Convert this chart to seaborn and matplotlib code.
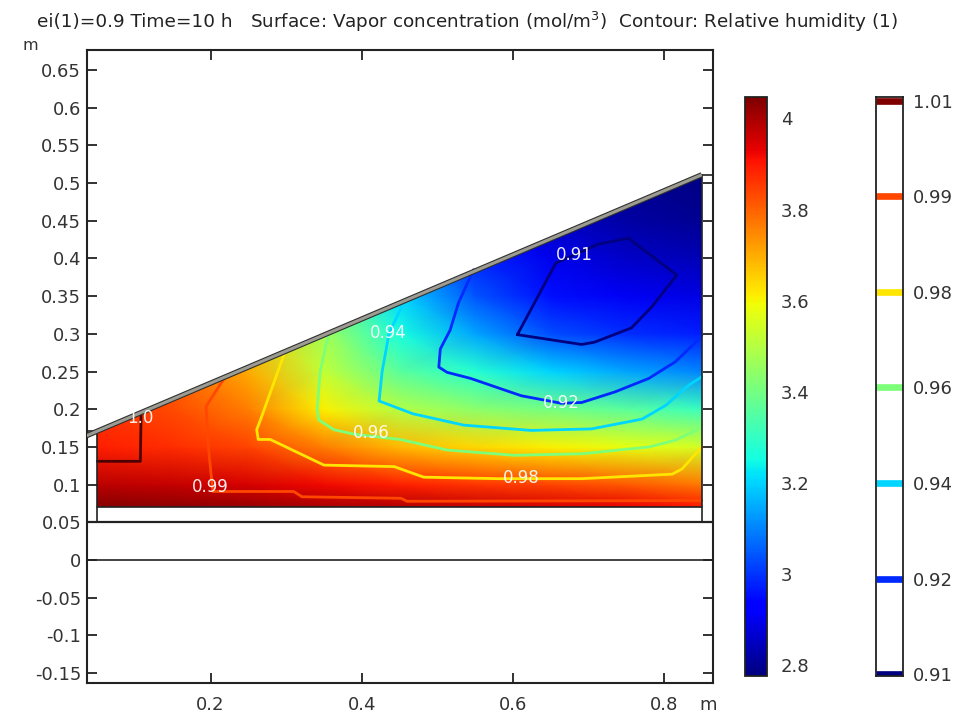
import numpy as np
import matplotlib
matplotlib.use("Agg")
import matplotlib.pyplot as plt
import matplotlib.patheffects as pe
from matplotlib.patches import Polygon
from matplotlib.colors import Normalize
from matplotlib.ticker import FuncFormatter
import seaborn as sns

# ---------------- data ----------------
# vapor concentration (mol/m^3) on a coarse grid (x columns, y rows)
conc_x = [0.05, 0.15, 0.25, 0.35, 0.45, 0.55, 0.65, 0.75, 0.85]
conc_y = [0.07, 0.10, 0.15, 0.20, 0.25, 0.30, 0.35, 0.40, 0.45, 0.52]
conc_row_007 = [4.04, 4.03, 4.02, 4.00, 3.99, 3.97, 3.95, 3.93, 3.90]
conc_row_010 = [3.98, 3.97, 3.95, 3.92, 3.89, 3.86, 3.84, 3.81, 3.77]
conc_row_015 = [3.89, 3.87, 3.84, 3.76, 3.68, 3.64, 3.61, 3.58, 3.55]
conc_row_020 = [3.86, 3.83, 3.76, 3.61, 3.50, 3.44, 3.40, 3.36, 3.31]
conc_row_025 = [3.84, 3.80, 3.70, 3.52, 3.36, 3.28, 3.20, 3.14, 3.10]
conc_row_030 = [3.82, 3.77, 3.65, 3.47, 3.26, 3.14, 3.03, 2.99, 2.97]
conc_row_035 = [3.80, 3.75, 3.62, 3.42, 3.20, 3.04, 2.95, 2.91, 2.89]
conc_row_040 = [3.78, 3.72, 3.58, 3.38, 3.15, 2.98, 2.90, 2.86, 2.84]
conc_row_045 = [3.76, 3.70, 3.55, 3.34, 3.10, 2.94, 2.86, 2.82, 2.80]
conc_row_052 = [3.74, 3.68, 3.52, 3.30, 3.06, 2.90, 2.83, 2.79, 2.77]
conc_min, conc_max = 2.776, 4.047
conc_ticks = [2.8, 3.0, 3.2, 3.4, 3.6, 3.8, 4.0]
conc_tick_labels = ["2.8", "3", "3.2", "3.4", "3.6", "3.8", "4"]

# relative humidity contour levels (legend) and in-plot labels
rh_legend_labels = ["0.91", "0.92", "0.94", "0.96", "0.98", "0.99", "1.01"]
rh_plot_labels = ["0.91", "0.92", "0.94", "0.96", "0.98", "0.99", "1.0"]
rh_label_x = [0.681, 0.664, 0.435, 0.413, 0.611, 0.200, 0.107]
rh_label_y = [0.404, 0.208, 0.301, 0.168, 0.109, 0.097, 0.189]

# iso-lines of relative humidity
rh091_x = [0.606, 0.691, 0.708, 0.757, 0.784, 0.817, 0.753, 0.713, 0.657, 0.606]
rh091_y = [0.299, 0.286, 0.289, 0.308, 0.336, 0.378, 0.427, 0.419, 0.394, 0.299]
rh092_x = [0.548, 0.528, 0.517, 0.504, 0.502, 0.513, 0.544, 0.611, 0.664, 0.691, 0.735, 0.780, 0.815, 0.842, 0.850]
rh092_y = [0.385, 0.341, 0.305, 0.280, 0.256, 0.249, 0.241, 0.218, 0.208, 0.209, 0.223, 0.241, 0.263, 0.289, 0.298]
rh094_x = [0.456, 0.436, 0.427, 0.423, 0.468, 0.535, 0.624, 0.704, 0.771, 0.802, 0.833, 0.850]
rh094_y = [0.343, 0.300, 0.250, 0.211, 0.194, 0.179, 0.172, 0.174, 0.187, 0.205, 0.232, 0.243]
rh096_x = [0.356, 0.345, 0.341, 0.343, 0.363, 0.390, 0.451, 0.513, 0.602, 0.691, 0.780, 0.815, 0.842, 0.850]
rh096_y = [0.300, 0.250, 0.200, 0.186, 0.173, 0.167, 0.160, 0.146, 0.139, 0.141, 0.150, 0.159, 0.172, 0.180]
rh098_x = [0.298, 0.266, 0.261, 0.263, 0.279, 0.350, 0.443, 0.482, 0.580, 0.691, 0.811, 0.824, 0.850]
rh098_y = [0.275, 0.186, 0.173, 0.160, 0.160, 0.126, 0.124, 0.110, 0.108, 0.108, 0.114, 0.121, 0.150]
rh099_x = [0.218, 0.194, 0.197, 0.200, 0.203, 0.310, 0.321, 0.452, 0.460, 0.850]
rh099_y = [0.241, 0.204, 0.150, 0.120, 0.091, 0.091, 0.084, 0.082, 0.078, 0.079]
rh101_x = [0.108, 0.107, 0.050]
rh101_y = [0.195, 0.131, 0.131]

# geometry of the model
domain_x = [0.05, 0.85, 0.85, 0.05]
domain_y = [0.07, 0.07, 0.511, 0.171]
slope_x = [0.036, 0.05, 0.85]
slope_y = [0.165, 0.171, 0.511]

x_ticks = [0.2, 0.4, 0.6, 0.8]
y_ticks = [-0.15, -0.1, -0.05, 0, 0.05, 0.1, 0.15, 0.2, 0.25, 0.3, 0.35,
           0.4, 0.45, 0.5, 0.55, 0.6, 0.65]
x_lim = (0.036, 0.8645)
y_lim = (-0.163, 0.6765)

# ---------------- drawing ----------------
sns.set_theme(style="ticks")
plt.rcParams["font.family"] = ["DejaVu Sans"]
plt.rcParams["axes.unicode_minus"] = False

W, H = 961, 715
fig = plt.figure(figsize=(W / 100, H / 100), dpi=100)
fig.patch.set_facecolor("white")

def fax(l, r, t, b):
    return [l / W, 1 - b / H, (r - l) / W, (b - t) / H]

ax = fig.add_axes(fax(86.7, 712.7, 50, 683))
ax.set_facecolor("white")

cmap = plt.get_cmap("jet")
norm = Normalize(conc_min, conc_max)

C = np.array([conc_row_007, conc_row_010, conc_row_015, conc_row_020, conc_row_025,
              conc_row_030, conc_row_035, conc_row_040, conc_row_045, conc_row_052])
X, Y = np.meshgrid(conc_x, conc_y)
mesh = ax.pcolormesh(X, Y, C, shading="gouraud", cmap=cmap, norm=norm, zorder=1)
clip = Polygon(np.column_stack([domain_x, domain_y]), closed=True,
               transform=ax.transData, facecolor="none", edgecolor="none")
ax.add_patch(clip)
mesh.set_clip_path(clip)

# contour lines
line_colors = cmap(np.linspace(0, 1, len(rh_legend_labels)))
plot_line_colors = line_colors.copy()
plot_line_colors[-1] = (0.30, 0.0, 0.0, 1.0)
rh_lines = [(rh091_x, rh091_y), (rh092_x, rh092_y), (rh094_x, rh094_y),
            (rh096_x, rh096_y), (rh098_x, rh098_y), (rh099_x, rh099_y),
            (rh101_x, rh101_y)]
for (lx, ly), col in zip(rh_lines, plot_line_colors):
    ax.plot(lx, ly, color=col, lw=2.0, solid_joinstyle="round", zorder=3)

for t, lx, ly in zip(rh_plot_labels, rh_label_x, rh_label_y):
    ax.text(lx, ly, t, color="white", alpha=0.92, fontsize=12,
            ha="center", va="center", zorder=5)

# geometry outlines
k = "#222222"
ax.plot([x_lim[0], x_lim[1]], [0.05, 0.05], color=k, lw=1.6, zorder=4)
ax.plot([x_lim[0], x_lim[1]], [0.0, 0.0], color=k, lw=1.2, zorder=4)
ax.plot([domain_x[0], domain_x[1]], [domain_y[0], domain_y[1]], color=k, lw=1.2, zorder=4)
ax.plot([domain_x[3], domain_x[3]], [0.05, domain_y[3]], color=k, lw=1.2, zorder=4)
ax.plot([domain_x[2], domain_x[2]], [0.05, domain_y[2]], color=k, lw=1.2, zorder=4)
ax.plot([x_lim[0], domain_x[3]], [domain_y[3], domain_y[3]], color=k, lw=1.2, zorder=4)
ax.plot([domain_x[2], x_lim[1]], [domain_y[2], domain_y[2]], color=k, lw=1.2, zorder=4)
ax.plot(slope_x, slope_y, color="#9c9c92", lw=2.2, zorder=4,
        solid_capstyle="butt",
        path_effects=[pe.Stroke(linewidth=3.8, foreground="#303030"), pe.Normal()])

ax.set_xlim(*x_lim)
ax.set_ylim(*y_lim)
ax.set_xticks(x_ticks)
ax.set_yticks(y_ticks)
fmt = FuncFormatter(lambda v, p: "%g" % round(v, 4))
ax.xaxis.set_major_formatter(fmt)
ax.yaxis.set_major_formatter(fmt)
ax.tick_params(direction="in", length=7, width=1.3, color="#222222",
               top=True, right=True, labelsize=13, labelcolor="#333333")
ax.tick_params(axis="x", pad=9)
ax.tick_params(axis="y", pad=4)
for s in ax.spines.values():
    s.set_linewidth(1.5)
    s.set_color("#222222")

fig.text(30 / W, 1 - 45 / H, "m", fontsize=11.5, color="#333333", ha="center", va="center")
fig.text(708 / W, 1 - 705 / H, "m", fontsize=13, color="#333333", ha="center", va="center")

fig.text(37 / W, 1 - 22 / H, "ei(1)=0.9 Time=10 h", fontsize=13.3, color="#222222",
         ha="left", va="center")
fig.text(250 / W, 1 - 22 / H,
         "Surface: Vapor concentration (mol/m$^3$)  Contour: Relative humidity (1)",
         fontsize=13.2, color="#222222", ha="left", va="center")

# colour bar of the surface
cax1 = fig.add_axes(fax(745, 767, 97, 676))
cb = fig.colorbar(plt.cm.ScalarMappable(norm=norm, cmap=cmap), cax=cax1)
cb.set_ticks(conc_ticks)
cb.set_ticklabels(conc_tick_labels)
cb.outline.set_linewidth(1.3)
cb.outline.set_edgecolor("#222222")
cax1.tick_params(direction="in", length=4, width=1.2, left=True, right=True,
                 labelsize=13, labelcolor="#333333", pad=10)

# legend bar of the contour levels
cax2 = fig.add_axes(fax(876, 903, 97, 676))
cax2.set_facecolor("white")
idx = np.arange(len(rh_legend_labels))
cax2.set_xlim(0, 1)
cax2.set_ylim(-0.02, 6.04)
cax2.hlines(idx, 0, 1, colors=line_colors, lw=4.8, zorder=2)
cax2.set_xticks([])
cax2.set_yticks(idx)
cax2.set_yticklabels(rh_legend_labels)
cax2.yaxis.tick_right()
cax2.tick_params(axis="y", length=0, labelsize=13, labelcolor="#333333", pad=7)
for s in cax2.spines.values():
    s.set_linewidth(1.3)
    s.set_color("#222222")

fig.savefig("out.png", dpi=100, facecolor="white")
